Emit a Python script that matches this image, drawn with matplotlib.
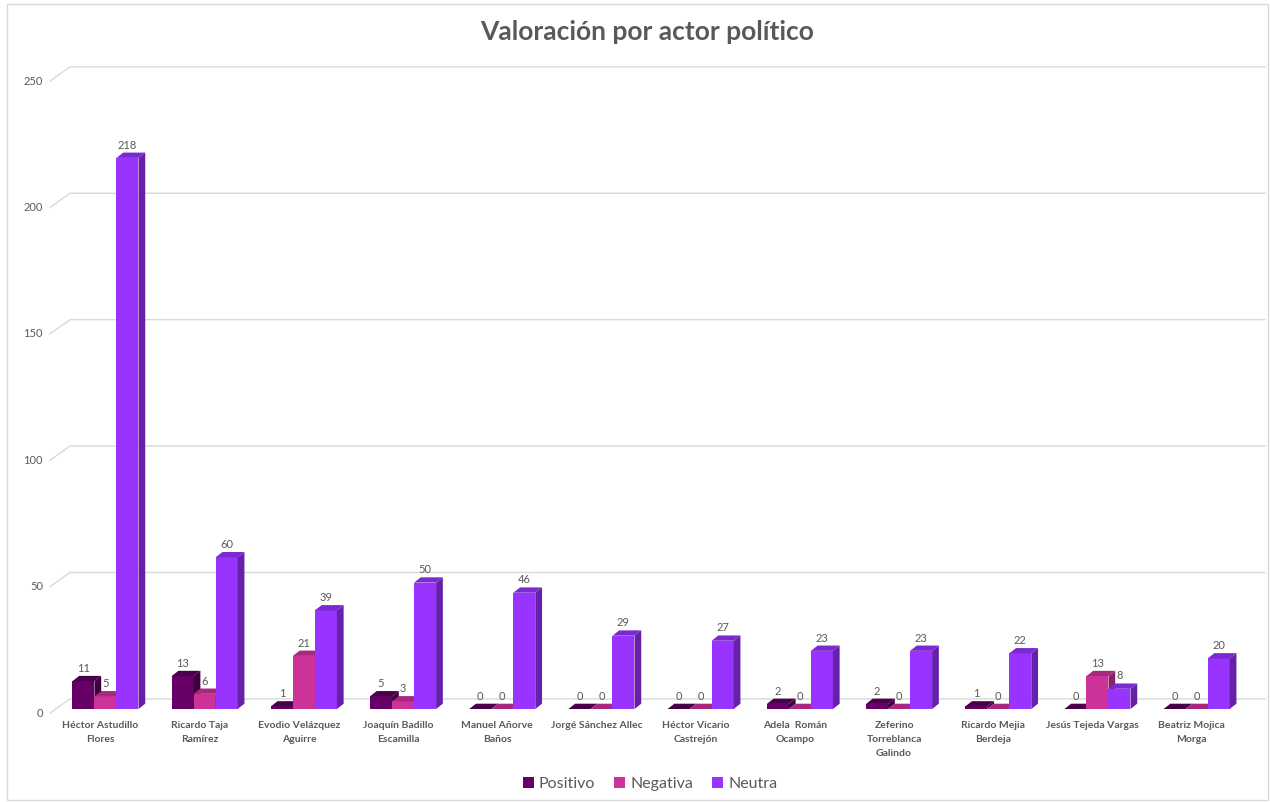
import matplotlib
matplotlib.use('Agg')
import matplotlib.pyplot as plt
from matplotlib.patches import Polygon, Patch, Rectangle
import numpy as np

# Data
actores = ['Héctor Astudillo\nFlores', 'Ricardo Taja\nRamírez', 'Evodio Velázquez\nAguirre',
           'Joaquín Badillo\nEscamilla', 'Manuel Añorve\nBaños', 'Jorgé Sánchez Allec',
           'Héctor Vicario\nCastrejón', 'Adela  Román\nOcampo', 'Zeferino\nTorreblanca\nGalindo',
           'Ricardo Mejia\nBerdeja', 'Jesús Tejeda Vargas', 'Beatriz Mojica\nMorga']
positivo = [11, 13, 1, 5, 0, 0, 0, 2, 2, 1, 0, 0]
negativa = [5, 6, 21, 3, 0, 0, 0, 0, 0, 0, 13, 0]
neutra = [218, 60, 39, 50, 46, 29, 27, 23, 23, 22, 8, 20]
series = ['Positivo', 'Negativa', 'Neutra']
y_ticks = [0, 50, 100, 150, 200, 250]

# colours: front, side, top
colores = {
    'Positivo': ('#660066', '#3d003d', '#4a004a'),
    'Negativa': ('#cc3399', '#8c2266', '#a8287f'),
    'Neutra': ('#9933ff', '#6620aa', '#7a2ad0'),
}
gris = '#595959'

plt.rcParams['font.family'] = ['Lato', 'DejaVu Sans']

fig = plt.figure(figsize=(12.7, 8.02), dpi=100)
ax = fig.add_axes([0, 0, 1, 1])

# pixel mapping: category i centred at 100.5 + 99.2*i px, value 0 at 709 px, 2.528 px per unit
px_x = 99.2
px_y = 2.528
ax.set_xlim(-100.5 / px_x, (1270 - 100.5) / px_x)
ax.set_ylim(-(802 - 709) / px_y, 709 / px_y)
ax.axis('off')

# 3D offsets (data units)
dx, dy = 0.068, 2.1
w = 0.222
offset = 0.05

# gridlines with 3D wall
gx_front, gx_back = (50 - 100.5) / px_x, (70 - 100.5) / px_x
gx_right = (1265 - 100.5) / px_x
for v in y_ticks:
    yf = v - 1.6
    yb = v + 4.0
    ax.plot([gx_front, gx_back, gx_right], [yf, yb, yb], color='#d9d9d9', lw=1.0, zorder=1)
    ax.text((43 - 100.5) / px_x, yf, str(v), ha='right', va='center', fontsize=8, color=gris)

x = np.arange(len(actores))
z = 2
for k, (nombre, valores) in enumerate(zip(series, [positivo, negativa, neutra])):
    front, side, top = colores[nombre]
    x0 = x + offset + (k - 1.5) * w
    ax.bar(x0, valores, width=w, align='edge', color=front, edgecolor='none', zorder=z)
    for xi, v in zip(x0, valores):
        ax.add_patch(Polygon([(xi + w, 0), (xi + w + dx, dy), (xi + w + dx, v + dy), (xi + w, v)],
                             closed=True, facecolor=side, edgecolor='none', zorder=z))
        ax.add_patch(Polygon([(xi, v), (xi + dx, v + dy), (xi + w + dx, v + dy), (xi + w, v)],
                             closed=True, facecolor=top, edgecolor='none', zorder=z))
        ax.text(xi + w / 2, v + dy + 0.8, str(v), ha='center', va='bottom', fontsize=8,
                color=gris, zorder=10)
    z += 1

# category labels
for i, nombre in enumerate(actores):
    ax.text(i, -(721 - 709) / px_y, nombre, ha='center', va='top', fontsize=7.5,
            fontweight='bold', color=gris, linespacing=1.75)

# title
fig.text(647 / 1270, 1 - 32 / 802, 'Valoración por actor político', ha='center', va='center',
         fontsize=19, fontweight='bold', color=gris)

# legend
handles = [Patch(facecolor=colores[s][0], edgecolor='none', label=s) for s in series]
fig.legend(handles=handles, loc='center', bbox_to_anchor=(650 / 1270, 1 - 784 / 802), ncol=3,
           frameon=False, fontsize=11.5, handlelength=0.7, handleheight=0.7, handletextpad=0.3,
           columnspacing=1.2, labelcolor=gris)

# chart border
fig.patches.append(Rectangle((7 / 1270, 0.002), 1 - 9 / 1270, 1 - 6 / 802, transform=fig.transFigure,
                             fill=False, edgecolor='#d9d9d9', lw=1.0))

fig.savefig('out.png', dpi=100)
